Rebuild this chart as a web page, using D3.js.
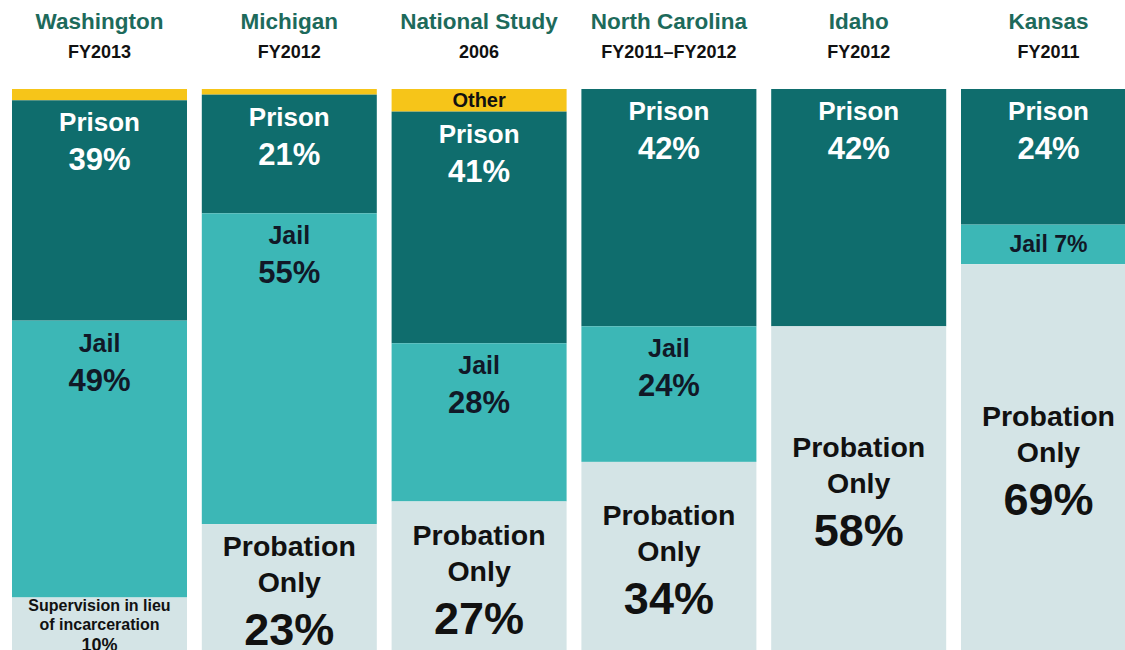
<!DOCTYPE html>
<html>
<head>
<meta charset="utf-8">
<script src="https://cdn.jsdelivr.net/npm/d3@7"></script>
<style>
  body { margin: 0; background: #fff; }
  svg { display: block; font-family: "Liberation Sans", Arial, Helvetica, sans-serif; font-weight: bold; }
</style>
</head>
<body>
<script>
var width = 1125,
    height = 650;

// data
var sites = ["Washington", "Michigan", "National Study", "North Carolina", "Idaho", "Kansas"];
var periods = ["FY2013", "FY2012", "2006", "FY2011\u2013FY2012", "FY2012", "FY2011"];
var other = [2, 1, 4, 0, 0, 0];
var prison = [39, 21, 41, 42, 42, 24];
var jail = [49, 55, 28, 24, 0, 7];
var probation = [10, 23, 27, 34, 58, 69];
var lastLabel = ["Supervision in lieu of incarceration", "Probation Only", "Probation Only",
                 "Probation Only", "Probation Only", "Probation Only"];

var colors = {
    other: "#f6c519",
    prison: "#0f6d6d",
    jail: "#3cb7b6",
    probation: "#d4e4e6"
};

var svg = d3.select("body").append("svg")
    .attr("width", width)
    .attr("height", height);

var x = d3.scaleBand()
    .domain(sites)
    .range([12, 1136])
    .paddingInner(0.078)
    .paddingOuter(0);

var y = d3.scaleLinear()
    .domain([0, 100])
    .range([89, 654]);

var rows = sites.map(function (s, i) {
    return { site: s, period: periods[i], other: other[i], prison: prison[i],
             jail: jail[i], probation: probation[i], last: lastLabel[i] };
});

var keys = ["other", "prison", "jail", "probation"];
var stack = d3.stack().keys(keys)(rows);

// segments
var layers = svg.selectAll("g.layer")
    .data(stack)
    .enter().append("g")
    .attr("class", "layer")
    .attr("fill", function (d) { return colors[d.key]; });

layers.selectAll("rect")
    .data(function (d) { return d; })
    .enter().append("rect")
    .attr("x", function (d) { return x(d.data.site); })
    .attr("width", x.bandwidth())
    .attr("y", function (d) { return y(d[0]); })
    .attr("height", function (d) { return Math.max(0, y(d[1]) - y(d[0])); });

// headers
var head = svg.selectAll("g.head")
    .data(rows)
    .enter().append("g")
    .attr("class", "head")
    .attr("transform", function (d) { return "translate(" + (x(d.site) + x.bandwidth() / 2) + ",0)"; });

head.append("text")
    .attr("y", 29)
    .attr("text-anchor", "middle")
    .attr("fill", "#1d6a5b")
    .attr("font-size", 22.5)
    .text(function (d) { return d.site; });

head.append("text")
    .attr("y", 58)
    .attr("text-anchor", "middle")
    .attr("fill", "#111")
    .attr("font-size", 18)
    .text(function (d) { return d.period; });

// labels inside the columns
var cols = svg.selectAll("g.col")
    .data(rows)
    .enter().append("g")
    .attr("class", "col")
    .attr("transform", function (d) { return "translate(" + (x(d.site) + x.bandwidth() / 2) + ",0)"; });

cols.each(function (d) {
    var g = d3.select(this);
    var top = y(d.other);

    if (d.other >= 3) {
        g.append("text")
            .attr("y", (y(0) + top) / 2 + 7)
            .attr("text-anchor", "middle")
            .attr("fill", "#111")
            .attr("font-size", 20)
            .text("Other");
    }

    // prison
    g.append("text").attr("y", top + 31).attr("text-anchor", "middle")
        .attr("fill", "#fff").attr("font-size", 26).text("Prison");
    g.append("text").attr("y", top + 70).attr("text-anchor", "middle")
        .attr("fill", "#fff").attr("font-size", 31).text(d.prison + "%");

    // jail
    var jTop = y(d.other + d.prison);
    var jBot = y(d.other + d.prison + d.jail);
    if (d.jail > 0 && jBot - jTop < 60) {
        g.append("text").attr("y", (jTop + jBot) / 2 + 8).attr("text-anchor", "middle")
            .attr("fill", "#111827").attr("font-size", 23).text("Jail " + d.jail + "%");
    } else if (d.jail > 0) {
        g.append("text").attr("y", jTop + 31).attr("text-anchor", "middle")
            .attr("fill", "#111827").attr("font-size", 25).text("Jail");
        g.append("text").attr("y", jTop + 70).attr("text-anchor", "middle")
            .attr("fill", "#111827").attr("font-size", 31).text(d.jail + "%");
    }

    // probation / supervision, centred in the visible part
    var pTop = jBot;
    var mid = (pTop + height) / 2;
    if (d.last === "Probation Only") {
        g.append("text").attr("y", mid - 31).attr("text-anchor", "middle")
            .attr("fill", "#111").attr("font-size", 28.5).text("Probation");
        g.append("text").attr("y", mid + 5).attr("text-anchor", "middle")
            .attr("fill", "#111").attr("font-size", 28.5).text("Only");
        g.append("text").attr("y", mid + 58).attr("text-anchor", "middle")
            .attr("fill", "#111").attr("font-size", 45).text(d.probation + "%");
    } else {
        g.append("text").attr("y", pTop + 13).attr("text-anchor", "middle")
            .attr("fill", "#111").attr("font-size", 16).text("Supervision in lieu");
        g.append("text").attr("y", pTop + 32).attr("text-anchor", "middle")
            .attr("fill", "#111").attr("font-size", 16).text("of incarceration");
        g.append("text").attr("y", pTop + 53).attr("text-anchor", "middle")
            .attr("fill", "#111").attr("font-size", 18).text(d.probation + "%");
    }
});
</script>
</body>
</html>
